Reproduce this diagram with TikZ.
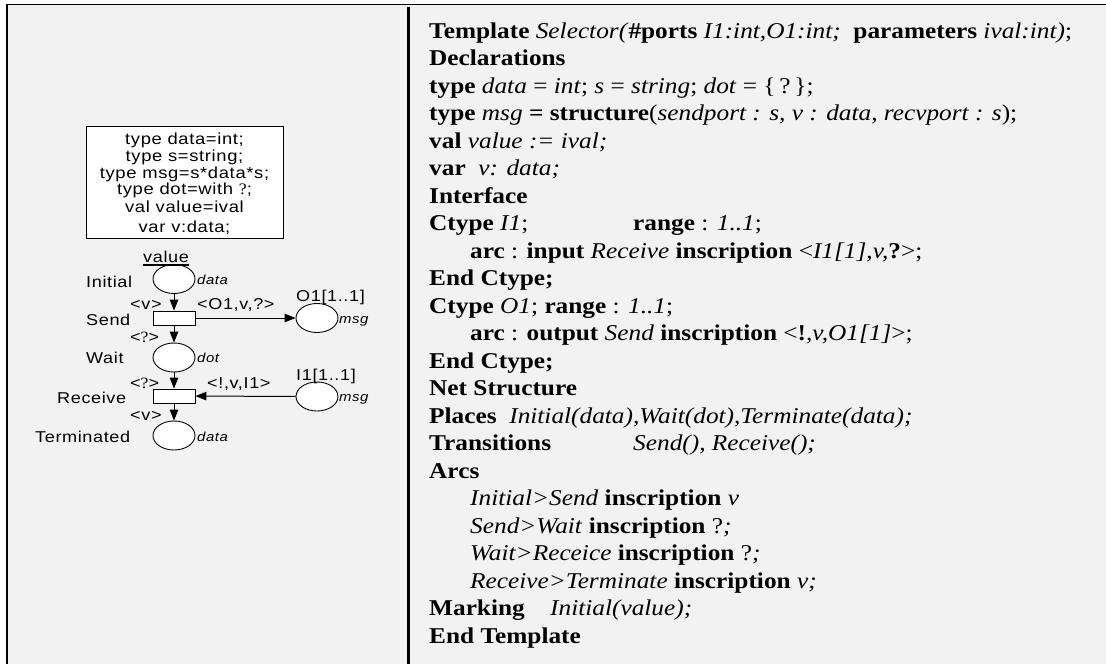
\documentclass[tikz,border=0pt]{standalone}
\usepackage{fontspec}
\setmainfont{Liberation Serif}[FakeStretch=1.12]
\setsansfont{Liberation Sans}[FakeStretch=1.15, LetterSpace=4]
\usetikzlibrary{arrows.meta,shapes.geometric}
\definecolor{panel}{HTML}{F2F2F2}
\newcommand{\tplfont}{\rmfamily\fontsize{22.6}{27}\selectfont}
\newcommand{\netfont}{\sffamily\fontsize{15.7}{17}\selectfont}
\newcommand{\boxfont}{\sffamily\fontsize{16}{17}\selectfont}
\newcommand{\typfont}{\sffamily\itshape\fontsize{13}{15}\selectfont}
\tikzset{
  place/.style={draw, ellipse, minimum width=42pt, minimum height=29pt,
    fill=white, line width=0.9pt, inner sep=0pt},
  trans/.style={draw, rectangle, minimum width=42pt, minimum height=14pt,
    fill=white, line width=0.9pt, inner sep=0pt},
  arc/.style={line width=1pt, -{Triangle[length=11pt,width=8.5pt]}},
  lbl/.style={font=\netfont, inner sep=0pt, anchor=base west},
  typ/.style={font=\typfont, inner sep=0pt, anchor=base west},
  decl/.style={font=\boxfont, inner sep=0pt, anchor=base},
  tpl/.style={font=\tplfont, inner sep=0pt, anchor=base west},
}
\begin{document}
\begin{tikzpicture}[x=1pt, y=-1pt]
\useasboundingbox (0,0) rectangle (1106,664);
% frame and panels
\fill[white] (0,0) rectangle (1106,664);
\fill[panel] (7,4) rectangle (1106,664);
\draw[line width=1.6pt] (7,664) -- (7,4.5) -- (1106,4.5);
\draw[line width=3pt] (408,7) -- (408,664);

% declaration box of the net
\draw[fill=white, line width=0.9pt] (86,126) rectangle (283,238);
\node[decl] (d1) at (184.5,144) {type data=int;};
\node[decl] (d2) at (184.5,161) {type s=string;};
\node[decl] (d3) at (184.5,178) {type msg=s*data*s;};
\node[decl] (d4) at (184.5,194.5) {type dot=with {\rmfamily ?};};
\node[decl] (d5) at (184.5,212) {val value=ival};
\node[decl] (d6) at (184.5,232) {var v:data;};

% places and transitions
\node[place] (init) at (174,279) {};
\node[trans] (send) at (174,318) {};
\node[place] (wait) at (174,357.5) {};
\node[trans] (recv) at (174,396) {};
\node[place] (term) at (174,435.5) {};
\node[place] (o1) at (317,318) {};
\node[place] (i1) at (317,396.5) {};

% arcs
\draw[arc] (init) -- (send);
\draw[arc] (send) -- (wait);
\draw[arc] (wait) -- (recv);
\draw[arc] (recv) -- (term);
\draw[arc] (send) -- (o1);
\draw[arc] (i1) -- (recv);

% initial marking
\node[lbl] (val) at (143,262) {value};
\draw[line width=1.2pt] ([yshift=-3pt]val.base west) -- ([yshift=-3pt]val.base east);

% place and transition names
\node[lbl] (nInit) at (86,287.5) {Initial};
\node[lbl] (nSend) at (86,325.5) {Send};
\node[lbl] (nWait) at (86,363.5) {Wait};
\node[lbl] (nRecv) at (57,403.5) {Receive};
\node[lbl] (nTerm) at (35,442.5) {Terminated};
\node[lbl] (nO1) at (296,301) {O1[1..1]};
\node[lbl] (nI1) at (296,380.5) {I1[1..1]};

% place types
\node[typ] (tInit) at (197,284.5) {data};
\node[typ] (tO1) at (339,323) {msg};
\node[typ] (tWait) at (197,362.5) {dot};
\node[typ] (tI1) at (339,401.5) {msg};
\node[typ] (tTerm) at (197,441) {data};

% arc inscriptions
\node[lbl] (a1) at (130,309.5) {<v>};
\node[lbl] (a2) at (130,342) {<{\rmfamily ?}>};
\node[lbl] (a3) at (130,388) {<{\rmfamily ?}>};
\node[lbl] (a4) at (130,420) {<v>};
\node[lbl] (a5) at (197,309.5) {<O1,v,?>};
\node[lbl] (a6) at (207,388.5) {<!,v,I1>};

% template text
\node[tpl] (l0) at (429,38) {\textbf{Template} \textit{Selector(}\textbf{\#ports} \textit{I1:int,O1:int;}\ \ \textbf{parameters} \textit{ival:int)};};
\node[tpl] (l1) at (429,65.5) {\textbf{Declarations}};
\node[tpl] (l2) at (429,93) {\textbf{type} \textit{data} = \textit{int}; \textit{s} = \textit{string}; \textit{dot} = \{\,?\,\};};
\node[tpl] (l3) at (429,120.5) {\textbf{type} \textit{msg} \textbf{= structure}(\textit{sendport : s, v : data, recvport : s});};
\node[tpl] (l4) at (429,148) {\textbf{val} \textit{value := ival;}};
\node[tpl] (l5) at (429,175.5) {\textbf{var}\ \ \textit{v: data;}};
\node[tpl] (l6) at (429,203) {\textbf{Interface}};
\node[tpl] (l7) at (429,230.5) {\textbf{Ctype} \textit{I1};};
\node[tpl] (l7b) at (633,230.5) {\textbf{range} : \textit{1..1};};
\node[tpl] (l8) at (470,258) {\textbf{arc} : \textbf{input} \textit{Receive} \textbf{inscription} <\textit{I1[1],v,}\textbf{?}>;};
\node[tpl] (l9) at (429,285.5) {\textbf{End Ctype;}};
\node[tpl] (l10) at (429,313) {\textbf{Ctype} \textit{O1}; \textbf{range} : \textit{1..1};};
\node[tpl] (l11) at (470,340.5) {\textbf{arc} : \textbf{output} \textit{Send} \textbf{inscription} <\textbf{!}\textit{,v,O1[1]}>;};
\node[tpl] (l12) at (429,368) {\textbf{End Ctype;}};
\node[tpl] (l13) at (429,395.5) {\textbf{Net Structure}};
\node[tpl] (l14) at (429,423) {\textbf{Places}\ \ \textit{Initial(data),Wait(dot),Terminate(data);}};
\node[tpl] (l15) at (429,450.5) {\textbf{Transitions}};
\node[tpl] (l15b) at (633,450.5) {\textit{Send(), Receive();}};
\node[tpl] (l16) at (429,478) {\textbf{Arcs}};
\node[tpl] (l17) at (470,505.5) {\textit{Initial>Send} \textbf{inscription} \textit{v}};
\node[tpl] (l18) at (470,533) {\textit{Send>Wait} \textbf{inscription} ?\textit{;}};
\node[tpl] (l19) at (470,560.5) {\textit{Wait>Receice} \textbf{inscription} ?\textit{;}};
\node[tpl] (l20) at (470,588) {\textit{Receive>Terminate} \textbf{inscription} \textit{v;}};
\node[tpl] (l21) at (429,615.5) {\textbf{Marking}};
\node[tpl] (l21b) at (550,615.5) {\textit{Initial(value);}};
\node[tpl] (l22) at (429,643) {\textbf{End Template}};
\end{tikzpicture}
\end{document}
